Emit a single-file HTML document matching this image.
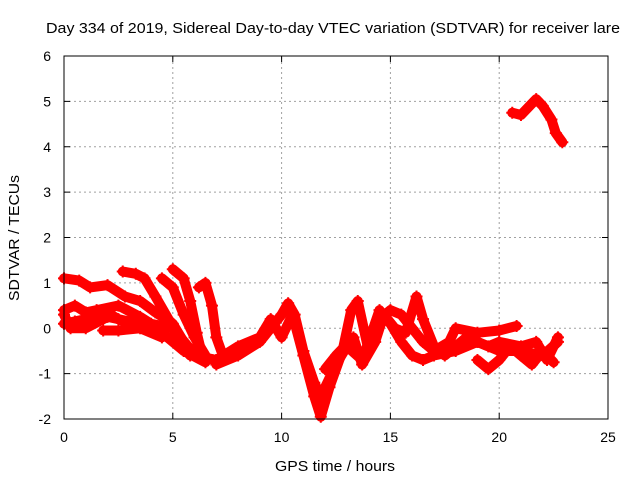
<!DOCTYPE html>
<html><head><meta charset="utf-8"><style>
body{margin:0;background:#fff}
svg{display:block;font-family:"Liberation Sans",sans-serif}
</style></head><body>
<svg id="c" width="640" height="480">
<text x="333" y="33" font-size="15" text-anchor="middle" textLength="574" lengthAdjust="spacingAndGlyphs">Day 334 of 2019, Sidereal Day-to-day VTEC variation (SDTVAR) for receiver lare</text>
<text x="335" y="471" font-size="15" text-anchor="middle" textLength="120" lengthAdjust="spacingAndGlyphs">GPS time / hours</text>
<text transform="translate(19,238) rotate(-90)" font-size="15" text-anchor="middle" textLength="126" lengthAdjust="spacingAndGlyphs">SDTVAR / TECUs</text>
<g id="grid"></g><g id="ticks"></g><g id="marks"></g>
<rect x="64" y="56" width="544" height="363" fill="none" stroke="#000" stroke-width="1"/>
</svg>
<script>
const xTicks=[0,5,10,15,20,25];
const yTicks=[-2,-1,0,1,2,3,4,5,6];
const trackA=[[0,1.1],[0.7,1.05],[1.2,0.9],[2,0.95],[2.8,0.7],[3.5,0.6],[4.2,0.35],[5,0.1],[5.5,-0.3],[6,-0.6],[7,-0.7],[8,-0.5]];
const trackB=[[0,0.4],[0.5,0.5],[1,0.35],[1.5,0.4],[2.5,0.5],[3.5,0.25],[4,0.1],[5,0],[5.7,-0.4],[6.5,-0.7]];
const trackC=[[0,0.1],[0.5,0.15],[1,0.2],[1.8,0.4],[2.5,0.2],[3.3,0.05],[4.5,-0.1],[5.5,-0.5],[6.5,-0.75]];
const trackD=[[0,0.3],[0.3,0.0],[1,0.0],[2,0.25],[3,0.15],[4,0.0]];
const trackE=[[1.8,-0.05],[2.5,-0.05],[3.5,0.0],[4.5,-0.2]];
const trackF=[[2.7,1.25],[3.3,1.2],[3.7,1.1],[4.2,0.7],[4.8,0.2],[5.3,-0.3],[5.8,-0.6]];
const trackG=[[4.5,1.1],[5,0.9],[5.5,0.3],[6,-0.2],[6.5,-0.6]];
const trackH=[[5,1.3],[5.5,1.1],[5.8,0.6],[6.1,-0.1],[6.3,-0.5]];
const trackI=[[6.2,0.9],[6.5,1.0],[6.8,0.5],[7,-0.2],[7.3,-0.6]];
const trackJ=[[6,-0.6],[7,-0.7],[8,-0.4],[9,-0.2],[9.5,0.2],[10,-0.2],[10.5,0.3],[11,-0.6],[11.5,-1.5],[11.8,-1.95],[12.2,-1.3],[12.8,-0.5],[13.2,0.4],[13.5,0.6],[14,-0.5],[14.5,0.2],[15,0.4],[15.5,0.3],[16,0.0],[16.5,-0.3],[17,-0.5],[17.7,-0.3],[18,0.0],[19,-0.1],[20,-0.05],[20.8,0.05]];
const trackK=[[7,-0.8],[8,-0.6],[9,-0.3],[10,0.3],[10.3,0.55],[10.6,0.3],[11,-0.5],[11.5,-1.2],[11.8,-1.5],[12.5,-0.8],[13,-0.4],[13.7,-0.7],[14,-0.3],[14.5,0.4],[15,0.1],[15.5,-0.3],[16,-0.6],[16.5,-0.7],[17,-0.6],[18,-0.5],[19,-0.3],[20,-0.5],[21,-0.5],[22,-0.6],[22.7,-0.3]];
const trackL=[[12,-0.9],[12.5,-0.6],[13.3,-0.2],[13.7,-0.8],[14.3,-0.3],[14.7,0.3],[15.2,0.0],[15.7,-0.1],[16.2,0.7],[16.5,0.2],[17,-0.4],[17.5,-0.6],[18,-0.4],[18.5,-0.2],[19,-0.3],[19.5,-0.4],[20,-0.3],[21,-0.4],[21.7,-0.3],[22.2,-0.7],[22.7,-0.2]];
const trackM=[[19,-0.7],[19.5,-0.9],[20,-0.7],[20.5,-0.4],[21,-0.6],[21.5,-0.8],[22,-0.5],[22.5,-0.75]];
const trackN=[[20.6,4.75],[21,4.7],[21.5,4.95],[21.7,5.05],[22,4.9],[22.4,4.6],[22.6,4.3],[22.9,4.1]];
const tracks=[trackA,trackB,trackC,trackD,trackE,trackF,trackG,trackH,trackI,trackJ,trackK,trackL,trackM,trackN];
const X0=64,X1=608,Y0=419,Y1=56;
const xs=v=>X0+(v-0)/(25-0)*(X1-X0);
const ys=v=>Y0-(v+2)/(6+2)*(Y0-Y1);
const NS='http://www.w3.org/2000/svg';
function mk(p,t,a){const e=document.createElementNS(NS,t);for(const k in a)e.setAttribute(k,a[k]);p.appendChild(e);return e;}
const grid=document.getElementById('grid'),tk=document.getElementById('ticks'),mg=document.getElementById('marks');
xTicks.forEach(v=>{const x=xs(v);
 if(v>0&&v<25){const g=mk(grid,'line',{x1:x,x2:x,y1:Y0,y2:Y1,stroke:'#a0a0a0','stroke-dasharray':'2,3'});
 
 }
 mk(tk,'line',{x1:x,x2:x,y1:Y0,y2:Y0-6,stroke:'#000'});
 mk(tk,'line',{x1:x,x2:x,y1:Y1,y2:Y1+6,stroke:'#000'});
 const t=mk(tk,'text',{x:x,y:442,'font-size':14,'text-anchor':'middle'});t.textContent=v;
 
 
});
yTicks.forEach(v=>{const y=ys(v);
 if(v>-2&&v<6){const g=mk(grid,'line',{x1:X0,x2:X1,y1:y,y2:y,stroke:'#a0a0a0','stroke-dasharray':'2,3'});
 
 }
 mk(tk,'line',{x1:X0,x2:X0+6,y1:y,y2:y,stroke:'#000'});
 mk(tk,'line',{x1:X1,x2:X1-6,y1:y,y2:y,stroke:'#000'});
 const t=mk(tk,'text',{x:51,y:y+5,'font-size':14,'text-anchor':'end'});t.textContent=v;
 
 
});
tracks.forEach(tr=>{
 const pl=mk(mg,'polyline',{points:tr.map(p=>xs(p[0])+','+ys(p[1])).join(' '),fill:'none',stroke:'#f00','stroke-width':10,'stroke-linejoin':'round','stroke-linecap':'round'});
 
 
 tr.forEach(p=>{const x=xs(p[0]),y=ys(p[1]);
  const m=mk(mg,'path',{d:`M${x-6},${y}H${x+6}M${x},${y-6}V${y+6}`,stroke:'#f00','stroke-width':2});
  
  
 });
});
</script>
</body></html>
